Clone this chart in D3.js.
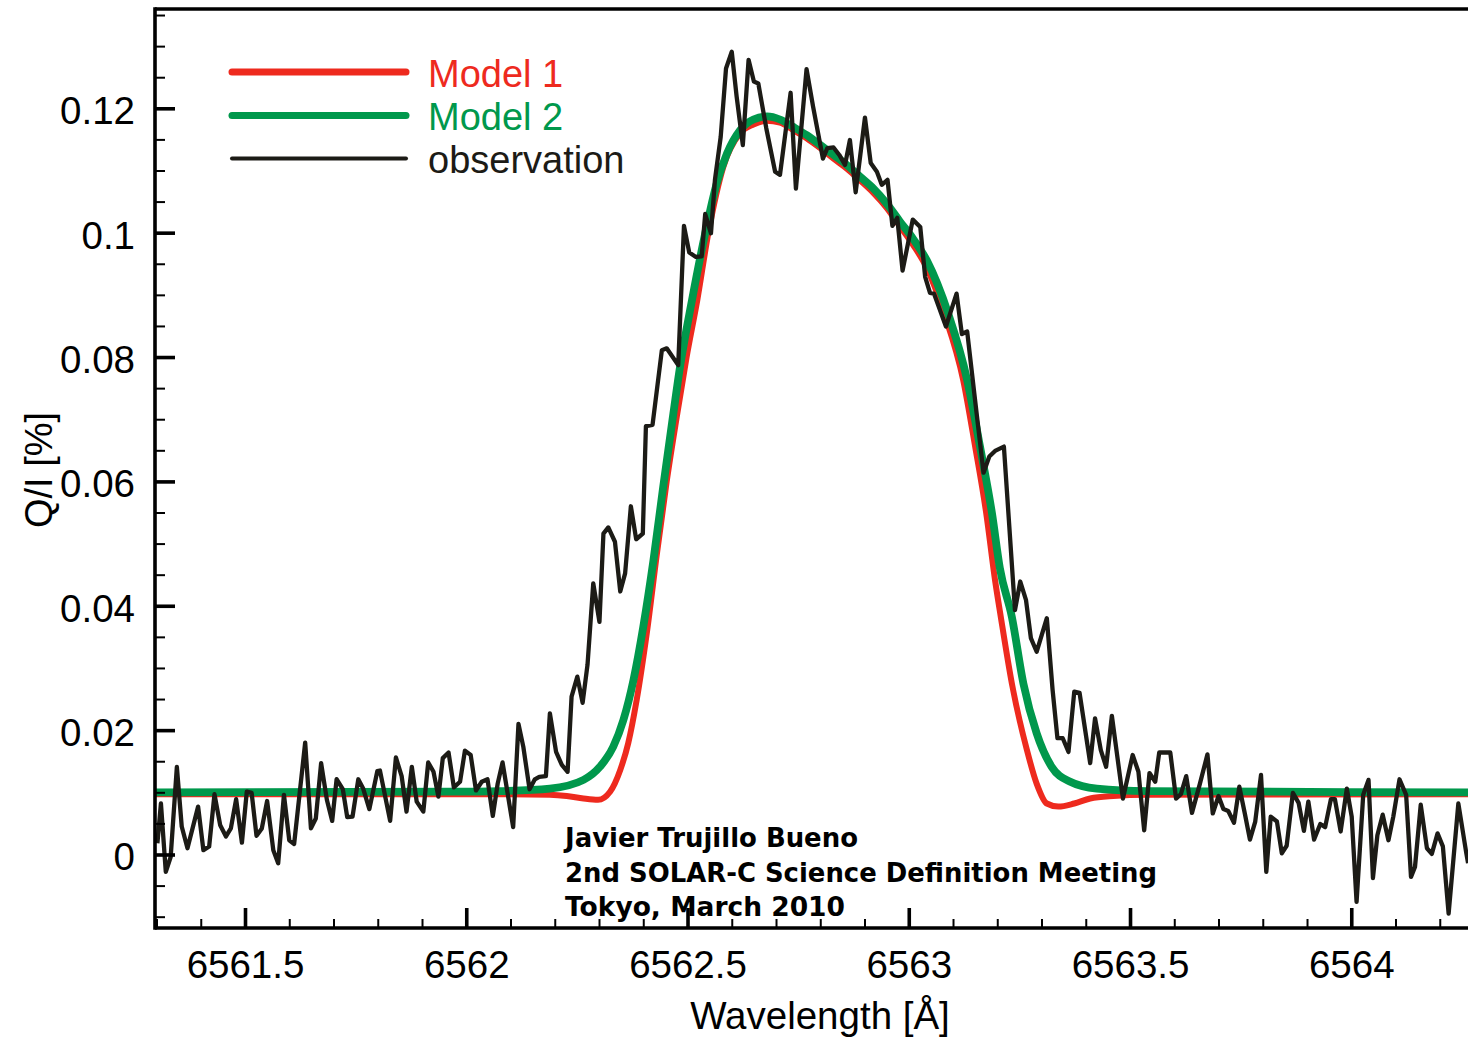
<!DOCTYPE html>
<html>
<head>
<meta charset="utf-8">
<script src="https://cdn.jsdelivr.net/npm/d3@7"></script>
<style>
  html, body { margin: 0; padding: 0; background: #fff; }
  svg { display: block; }
</style>
</head>
<body>
<svg id="chart" width="1468" height="1037"></svg>
<script>
// H-alpha scattering polarization Q/I: two model profiles and the observed profile.

// Observed profile: wavelength [Å] and Q/I [%]
const obsWave = [
  6561.302, 6561.310, 6561.321, 6561.332, 6561.346, 6561.357, 6561.370, 6561.394, 6561.406, 6561.419,
  6561.431, 6561.444, 6561.457, 6561.468, 6561.480, 6561.493, 6561.504, 6561.515, 6561.526, 6561.538,
  6561.550, 6561.564, 6561.575, 6561.588, 6561.600, 6561.611, 6561.636, 6561.649, 6561.660, 6561.672,
  6561.685, 6561.697, 6561.707, 6561.721, 6561.731, 6561.743, 6561.756, 6561.767, 6561.781, 6561.799,
  6561.805, 6561.828, 6561.841, 6561.854, 6561.865, 6561.877, 6561.888, 6561.903, 6561.914, 6561.926,
  6561.937, 6561.947, 6561.960, 6561.972, 6561.986, 6561.997, 6562.010, 6562.022, 6562.035, 6562.048,
  6562.060, 6562.071, 6562.082, 6562.106, 6562.118, 6562.129, 6562.143, 6562.155, 6562.165, 6562.180,
  6562.189, 6562.203, 6562.216, 6562.229, 6562.238, 6562.251, 6562.263, 6562.274, 6562.287, 6562.301,
  6562.310, 6562.321, 6562.336, 6562.348, 6562.359, 6562.372, 6562.384, 6562.399, 6562.406, 6562.421,
  6562.442, 6562.453, 6562.479, 6562.492, 6562.504, 6562.519, 6562.532, 6562.540, 6562.553, 6562.562,
  6562.575, 6562.587, 6562.600, 6562.611, 6562.625, 6562.638, 6562.650, 6562.660, 6562.678, 6562.698,
  6562.709, 6562.733, 6562.745, 6562.769, 6562.784, 6562.806, 6562.816, 6562.830, 6562.843, 6562.856,
  6562.867, 6562.880, 6562.901, 6562.914, 6562.928, 6562.939, 6562.952, 6562.963, 6562.974, 6562.986,
  6563.009, 6563.026, 6563.037, 6563.048, 6563.057, 6563.084, 6563.108, 6563.120, 6563.132, 6563.148,
  6563.169, 6563.182, 6563.195, 6563.215, 6563.240, 6563.252, 6563.265, 6563.276, 6563.289, 6563.312,
  6563.325, 6563.336, 6563.348, 6563.361, 6563.374, 6563.386, 6563.410, 6563.421, 6563.434, 6563.446,
  6563.459, 6563.484, 6563.506, 6563.519, 6563.532, 6563.544, 6563.557, 6563.566, 6563.591, 6563.604,
  6563.615, 6563.627, 6563.640, 6563.658, 6563.675, 6563.687, 6563.700, 6563.711, 6563.722, 6563.735,
  6563.747, 6563.760, 6563.771, 6563.783, 6563.796, 6563.808, 6563.818, 6563.832, 6563.843, 6563.854,
  6563.868, 6563.881, 6563.893, 6563.903, 6563.916, 6563.930, 6563.941, 6563.954, 6563.963, 6563.976,
  6563.990, 6564.001, 6564.012, 6564.027, 6564.039, 6564.049, 6564.059, 6564.071, 6564.084, 6564.095,
  6564.109, 6564.124, 6564.135, 6564.144, 6564.157, 6564.171, 6564.182, 6564.195, 6564.207, 6564.220,
  6564.242, 6564.260, 6564.264
];
const obsQ = [
  0.0018, 0.0082, -0.0028, -0.0004, 0.0141, 0.0045, 0.0010, 0.0077, 0.0007, 0.0013,
  0.0097, 0.0047, 0.0029, 0.0042, 0.0089, 0.0019, 0.0101, 0.0099, 0.0030, 0.0042,
  0.0086, 0.0007, -0.0014, 0.0096, 0.0023, 0.0017, 0.0180, 0.0042, 0.0058, 0.0147,
  0.0088, 0.0054, 0.0121, 0.0105, 0.0060, 0.0061, 0.0121, 0.0106, 0.0073, 0.0134,
  0.0135, 0.0054, 0.0156, 0.0126, 0.0069, 0.0141, 0.0085, 0.0069, 0.0148, 0.0133,
  0.0093, 0.0155, 0.0164, 0.0108, 0.0117, 0.0167, 0.0160, 0.0103, 0.0117, 0.0121,
  0.0062, 0.0114, 0.0148, 0.0044, 0.0210, 0.0173, 0.0105, 0.0121, 0.0125, 0.0126,
  0.0227, 0.0165, 0.0144, 0.0133, 0.0254, 0.0286, 0.0244, 0.0305, 0.0436, 0.0374,
  0.0516, 0.0526, 0.0503, 0.0423, 0.0452, 0.0560, 0.0507, 0.0516, 0.0689, 0.0691,
  0.0811, 0.0814, 0.0787, 0.1011, 0.0968, 0.0961, 0.0962, 0.1030, 0.0999, 0.1085,
  0.1154, 0.1264, 0.1291, 0.1219, 0.1141, 0.1278, 0.1243, 0.1240, 0.1168, 0.1098,
  0.1093, 0.1225, 0.1071, 0.1263, 0.1202, 0.1119, 0.1136, 0.1137, 0.1125, 0.1109,
  0.1149, 0.1065, 0.1185, 0.1112, 0.1098, 0.1077, 0.1085, 0.1011, 0.1024, 0.0939,
  0.1021, 0.1009, 0.0929, 0.0903, 0.0902, 0.0849, 0.0902, 0.0837, 0.0841, 0.0742,
  0.0614, 0.0640, 0.0649, 0.0656, 0.0393, 0.0439, 0.0409, 0.0348, 0.0326, 0.0380,
  0.0265, 0.0187, 0.0187, 0.0165, 0.0262, 0.0260, 0.0147, 0.0219, 0.0168, 0.0141,
  0.0223, 0.0090, 0.0160, 0.0133, 0.0039, 0.0131, 0.0117, 0.0164, 0.0164, 0.0090,
  0.0097, 0.0126, 0.0067, 0.0114, 0.0161, 0.0066, 0.0094, 0.0073, 0.0070, 0.0051,
  0.0109, 0.0064, 0.0024, 0.0053, 0.0128, -0.0028, 0.0061, 0.0053, 0.0002, 0.0014,
  0.0099, 0.0083, 0.0038, 0.0085, 0.0024, 0.0049, 0.0044, 0.0089, 0.0089, 0.0037,
  0.0106, 0.0061, -0.0076, 0.0096, 0.0120, -0.0038, 0.0031, 0.0064, 0.0023, 0.0061,
  0.0121, 0.0096, -0.0036, -0.0020, 0.0080, 0.0010, 0.0001, 0.0034, 0.0013, -0.0095,
  0.0082, 0.0002, -0.0014
];

// Model 1 profile
const model1Wave = [
  6561.297, 6562.076, 6562.189, 6562.227, 6562.265, 6562.298, 6562.325, 6562.348, 6562.366, 6562.385,
  6562.408, 6562.430, 6562.453, 6562.476, 6562.498, 6562.522, 6562.547, 6562.581, 6562.619, 6562.649,
  6562.679, 6562.709, 6562.739, 6562.769, 6562.800, 6562.830, 6562.860, 6562.890, 6562.920, 6562.950,
  6562.980, 6563.010, 6563.041, 6563.080, 6563.123, 6563.150, 6563.175, 6563.195, 6563.208, 6563.233,
  6563.267, 6563.289, 6563.312, 6563.338, 6563.374, 6563.410, 6563.462, 6563.538, 6564.264
];
const model1Q = [
  0.0097, 0.0097, 0.0096, 0.0094, 0.0090, 0.0088, 0.0101, 0.0136, 0.0179, 0.0248,
  0.0356, 0.0479, 0.0600, 0.0705, 0.0800, 0.0891, 0.0999, 0.1106, 0.1160, 0.1174,
  0.1180, 0.1177, 0.1165, 0.1152, 0.1136, 0.1119, 0.1103, 0.1084, 0.1064, 0.1040,
  0.1010, 0.0980, 0.0943, 0.0870, 0.0763, 0.0656, 0.0549, 0.0441, 0.0382, 0.0275,
  0.0168, 0.0114, 0.0082, 0.0077, 0.0082, 0.0090, 0.0094, 0.0096, 0.0097
];

// Model 2 profile
const model2Wave = [
  6561.297, 6561.963, 6562.076, 6562.189, 6562.265, 6562.302, 6562.332, 6562.355, 6562.378, 6562.400,
  6562.423, 6562.445, 6562.468, 6562.483, 6562.510, 6562.540, 6562.566, 6562.589, 6562.619, 6562.649,
  6562.680, 6562.709, 6562.739, 6562.769, 6562.800, 6562.830, 6562.860, 6562.890, 6562.920, 6562.950,
  6562.980, 6563.010, 6563.041, 6563.089, 6563.132, 6563.161, 6563.188, 6563.206, 6563.233, 6563.259,
  6563.289, 6563.323, 6563.365, 6563.425, 6563.538, 6564.264
];
const model2Q = [
  0.0100, 0.0101, 0.0102, 0.0106, 0.0120, 0.0141, 0.0173, 0.0216, 0.0281, 0.0366,
  0.0473, 0.0591, 0.0709, 0.0784, 0.0891, 0.0999, 0.1079, 0.1127, 0.1165, 0.1182,
  0.1187, 0.1182, 0.1170, 0.1157, 0.1141, 0.1125, 0.1109, 0.1090, 0.1071, 0.1047,
  0.1018, 0.0990, 0.0955, 0.0870, 0.0763, 0.0656, 0.0549, 0.0460, 0.0382, 0.0275,
  0.0195, 0.0141, 0.0117, 0.0106, 0.0102, 0.0100
];

// Axis ticks and labels
const xMajorTicks = [6561.5, 6562, 6562.5, 6563, 6563.5, 6564];
const xTickLabels = ["6561.5", "6562", "6562.5", "6563", "6563.5", "6564"];
const yMajorTicks = [0, 0.02, 0.04, 0.06, 0.08, 0.1, 0.12];
const yTickLabels = ["0", "0.02", "0.04", "0.06", "0.08", "0.1", "0.12"];

// Legend entries
const seriesNames = ["Model 1", "Model 2", "observation"];
const seriesColors = ["#ee2a1e", "#00984c", "#1c1b16"];

const annotationLines = [
  "Javier Trujillo Bueno",
  "2nd SOLAR-C Science Definition Meeting",
  "Tokyo, March 2010"
];

const svg = d3.select("#chart");
const W = 1468, H = 1037;
const plot = { left: 155, right: 1468, top: 9, bottom: 928 };
const sans = "'Liberation Sans', Arial, Helvetica, sans-serif";

svg.append("rect").attr("width", W).attr("height", H).attr("fill", "#fff");

const x = d3.scaleLinear().domain([6561.2966, 6564.2638]).range([plot.left, plot.right]);
const y = d3.scaleLinear().domain([-0.01182, 0.13597]).range([plot.bottom, plot.top]);

svg.append("defs").append("clipPath").attr("id", "plotClip")
  .append("rect")
  .attr("x", plot.left).attr("y", plot.top)
  .attr("width", plot.right - plot.left).attr("height", plot.bottom - plot.top);

const toPoints = (ws, qs) => ws.map((w, i) => [w, qs[i]]);
const smooth = d3.line().x(d => x(d[0])).y(d => y(d[1])).curve(d3.curveMonotoneX);
const jagged = d3.line().x(d => x(d[0])).y(d => y(d[1]));

const lines = svg.append("g").attr("clip-path", "url(#plotClip)");
lines.append("path")
  .attr("d", smooth(toPoints(model1Wave, model1Q)))
  .attr("fill", "none").attr("stroke", seriesColors[0]).attr("stroke-width", 6);
lines.append("path")
  .attr("d", smooth(toPoints(model2Wave, model2Q)))
  .attr("fill", "none").attr("stroke", seriesColors[1]).attr("stroke-width", 7.8);
lines.append("path")
  .attr("d", jagged(toPoints(obsWave, obsQ)))
  .attr("fill", "none").attr("stroke", seriesColors[2]).attr("stroke-width", 4.3)
  .attr("stroke-linejoin", "round");

// Minor ticks
const xMinorTicks = d3.range(65613, 65643).map(v => v / 10).filter(v => !xMajorTicks.includes(v));
const yMinorTicks = d3.range(-2, 28).map(v => v * 0.005).filter(v => !yMajorTicks.some(t => Math.abs(t - v) < 1e-9));

const xAxisMinor = svg.append("g").attr("transform", `translate(0,${plot.bottom})`)
  .call(d3.axisBottom(x).tickValues(xMinorTicks).tickSize(-9).tickSizeOuter(0).tickFormat(""));
const yAxisMinor = svg.append("g").attr("transform", `translate(${plot.left},0)`)
  .call(d3.axisLeft(y).tickValues(yMinorTicks).tickSize(-10).tickSizeOuter(0).tickFormat(""));
[xAxisMinor, yAxisMinor].forEach(g => {
  g.select(".domain").remove();
  g.selectAll(".tick line").attr("stroke", "#000").attr("stroke-width", 2);
});

const xAxis = svg.append("g").attr("transform", `translate(0,${plot.bottom})`)
  .call(d3.axisBottom(x).tickValues(xMajorTicks).tickSize(-20).tickSizeOuter(0)
    .tickPadding(23).tickFormat((d, i) => xTickLabels[i]));
const yAxis = svg.append("g").attr("transform", `translate(${plot.left},0)`)
  .call(d3.axisLeft(y).tickValues(yMajorTicks).tickSize(-20).tickSizeOuter(0)
    .tickPadding(20).tickFormat((d, i) => yTickLabels[i]));
[xAxis, yAxis].forEach(g => {
  g.select(".domain").remove();
  g.selectAll(".tick line").attr("stroke", "#000").attr("stroke-width", 3.6);
  g.selectAll(".tick text").attr("fill", "#000")
    .style("font-family", sans).style("font-size", "38.5px");
});
yAxis.selectAll(".tick text").attr("dy", "0.4em");

// Frame: left, bottom and top edges
const frame = svg.append("g").attr("stroke", "#000").attr("stroke-width", 3.6).attr("fill", "none");
frame.append("line").attr("x1", plot.left).attr("x2", plot.left).attr("y1", plot.top - 1.8).attr("y2", plot.bottom + 1.8);
frame.append("line").attr("x1", plot.left).attr("x2", W + 5).attr("y1", plot.bottom).attr("y2", plot.bottom);
frame.append("line").attr("x1", plot.left).attr("x2", W + 5).attr("y1", plot.top).attr("y2", plot.top);

// Axis titles
svg.append("text")
  .attr("x", 820).attr("y", 1029)
  .attr("text-anchor", "middle")
  .style("font-family", sans).style("font-size", "38.5px")
  .text("Wavelength [Å]");
svg.append("text")
  .attr("transform", "translate(52,470) rotate(-90)")
  .attr("text-anchor", "middle")
  .style("font-family", sans).style("font-size", "38px")
  .text("Q/I [%]");

// Legend
const legend = svg.append("g");
const legendY = [72, 115.5, 158.5];
const legendWidths = [7, 7, 4];
seriesNames.forEach((name, i) => {
  legend.append("line")
    .attr("x1", 232).attr("x2", 406)
    .attr("y1", legendY[i]).attr("y2", legendY[i])
    .attr("stroke", seriesColors[i]).attr("stroke-width", legendWidths[i])
    .attr("stroke-linecap", "round");
  legend.append("text")
    .attr("x", 428).attr("y", legendY[i] + 14.5)
    .attr("fill", seriesColors[i])
    .style("font-family", sans).style("font-size", "38px")
    .text(name);
});

// Credit note
const noteWidths = [293, 592, 280];
annotationLines.forEach((t, i) => {
  svg.append("text")
    .attr("x", 565).attr("y", 847 + i * 34.5)
    .attr("textLength", noteWidths[i]).attr("lengthAdjust", "spacingAndGlyphs")
    .style("font-family", "'Comic Sans MS', 'DejaVu Sans', sans-serif")
    .style("font-weight", "bold").style("font-size", "27px")
    .attr("fill", "#000")
    .text(t);
});
</script>
</body>
</html>
